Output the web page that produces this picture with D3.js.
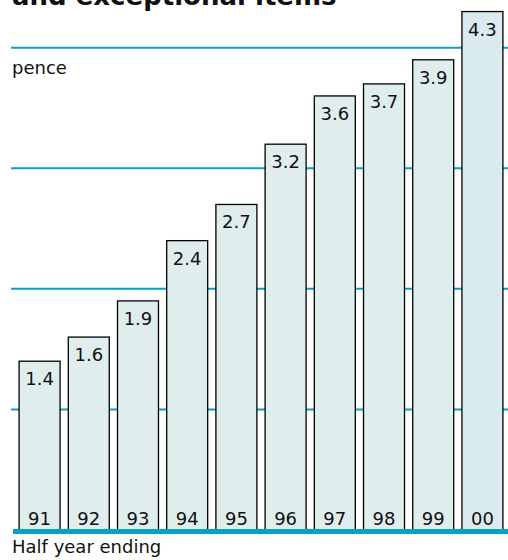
<!DOCTYPE html>
<html>
<head>
<meta charset="utf-8">
<script src="https://cdn.jsdelivr.net/npm/d3@7/dist/d3.min.js"></script>
<style>
  body { margin: 0; background: #fff; }
  text { font-family: "DejaVu Sans", Verdana, sans-serif; fill: #111; }
</style>
</head>
<body>
<script>
var years = ["91", "92", "93", "94", "95", "96", "97", "98", "99", "00"];
var values = [1.4, 1.6, 1.9, 2.4, 2.7, 3.2, 3.6, 3.7, 3.9, 4.3];
var gridTicks = [1, 2, 3, 4];

var width = 508, height = 560;
var teal = "#06a2c0";

var svg = d3.select("body").append("svg")
    .attr("width", width)
    .attr("height", height);

var x = d3.scaleBand()
    .domain(years)
    .range([15, 507])
    .paddingInner(0.167)
    .paddingOuter(0.083);

var y = d3.scaleLinear()
    .domain([0, 4.4])
    .range([530, -0.5]);

// title (second line, clipped at top like the original)
svg.append("text")
    .attr("x", 12)
    .attr("y", 5)
    .style("font-size", "26px")
    .style("font-weight", "bold")
    .text("and exceptional items");

// gridlines
svg.selectAll(".grid")
    .data(gridTicks)
    .enter().append("line")
    .attr("x1", 11)
    .attr("x2", width)
    .attr("y1", function(d) { return y(d); })
    .attr("y2", function(d) { return y(d); })
    .attr("stroke", teal)
    .attr("stroke-width", 2);

svg.append("text")
    .attr("x", 12)
    .attr("y", 74)
    .style("font-size", "18px")
    .text("pence");

var bar = svg.selectAll(".bar")
    .data(values)
    .enter().append("g");

bar.append("rect")
    .attr("x", function(d, i) { return x(years[i]); })
    .attr("y", function(d) { return y(d); })
    .attr("width", x.bandwidth())
    .attr("height", function(d) { return y(0) - y(d); })
    .attr("fill", function(d, i) { return i === years.length - 1 ? "#daebf0" : "#e0eded"; })
    .attr("stroke", "#000")
    .attr("stroke-width", 1.3);

bar.append("text")
    .attr("x", function(d, i) { return x(years[i]) + x.bandwidth() / 2; })
    .attr("y", function(d) { return y(d) + 24; })
    .attr("text-anchor", "middle")
    .style("font-size", "18px")
    .text(function(d) { return d.toFixed(1); });

bar.append("text")
    .attr("x", function(d, i) { return x(years[i]) + x.bandwidth() / 2; })
    .attr("y", 525)
    .attr("text-anchor", "middle")
    .style("font-size", "18px")
    .text(function(d, i) { return years[i]; });

// baseline
svg.append("line")
    .attr("x1", 13)
    .attr("x2", width)
    .attr("y1", 531.5)
    .attr("y2", 531.5)
    .attr("stroke", teal)
    .attr("stroke-width", 5);

svg.append("text")
    .attr("x", 12)
    .attr("y", 553)
    .style("font-size", "18px")
    .text("Half year ending");
</script>
</body>
</html>
